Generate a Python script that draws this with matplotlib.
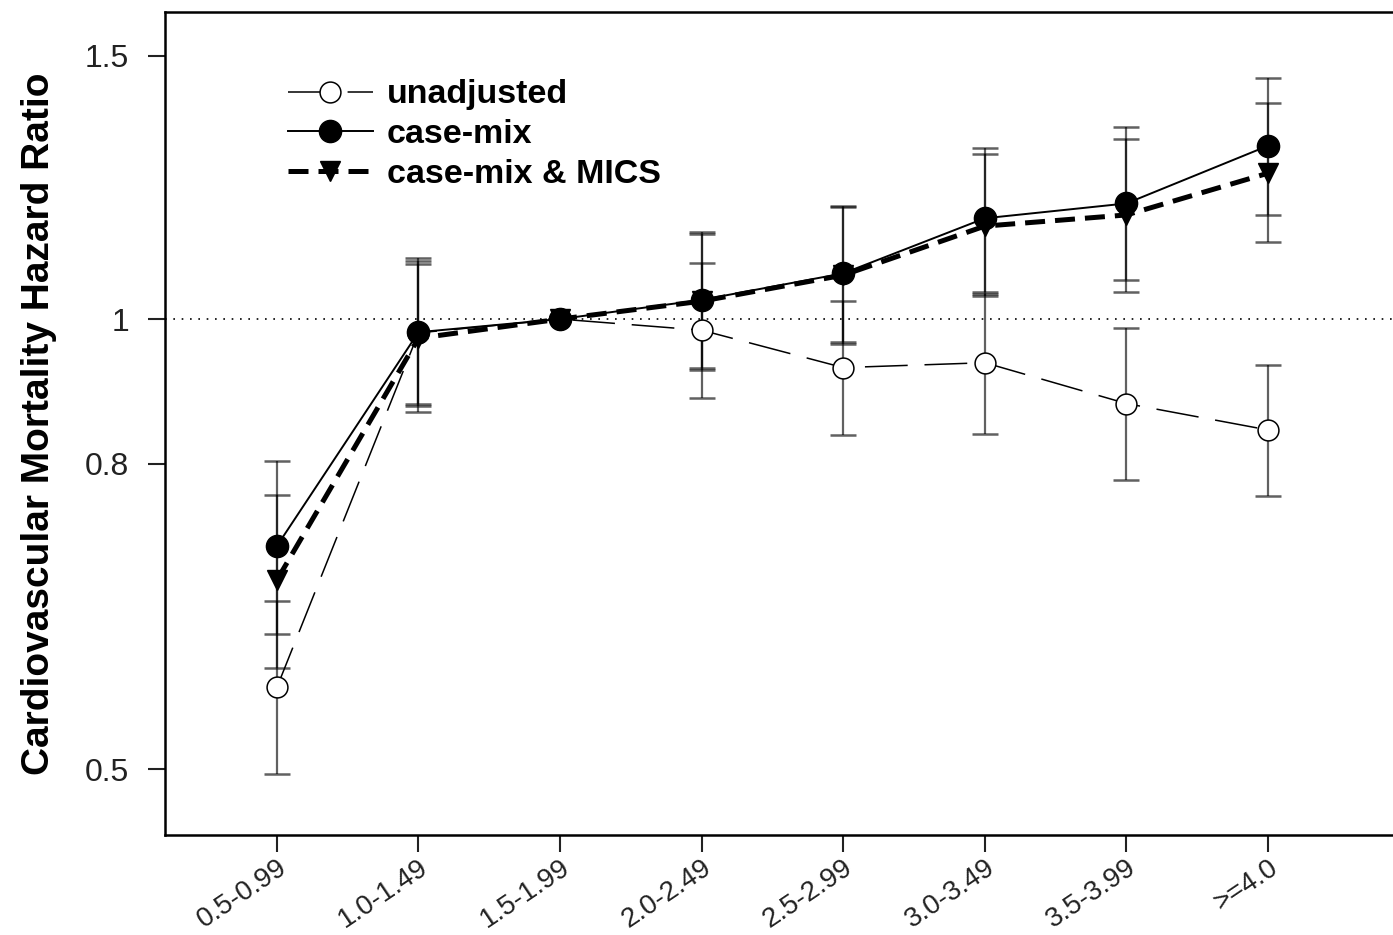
import numpy as np
import matplotlib
matplotlib.use('Agg')
import matplotlib.pyplot as plt

# albumin categories (g/dL)
categories = ['0.5-0.99', '1.0-1.49', '1.5-1.99', '2.0-2.49', '2.5-2.99', '3.0-3.49', '3.5-3.99', '>=4.0']

# hazard ratios and 95% CI (1.5-1.99 is reference)
hr_unadj = [0.567, 0.979, 1.0, 0.983, 0.928, 0.935, 0.878, 0.843]
lo_unadj = [0.496, 0.875, 1.0, 0.886, 0.836, 0.838, 0.781, 0.761]
hi_unadj = [0.648, 1.094, 1.0, 1.091, 1.029, 1.040, 0.986, 0.932]

hr_casemix = [0.705, 0.980, 1.0, 1.030, 1.073, 1.168, 1.195, 1.306]
lo_casemix = [0.616, 0.878, 1.0, 0.927, 0.965, 1.042, 1.062, 1.174]
hi_casemix = [0.803, 1.098, 1.0, 1.143, 1.190, 1.301, 1.344, 1.449]

hr_mics = [0.669, 0.971, 1.0, 1.028, 1.070, 1.154, 1.174, 1.252]
lo_mics = [0.584, 0.867, 1.0, 0.925, 0.963, 1.036, 1.042, 1.126]
hi_mics = [0.763, 1.088, 1.0, 1.140, 1.188, 1.289, 1.320, 1.394]

yticks = [0.5, 0.8, 1, 1.5]
ytick_labels = ['0.5', '0.8', '1', '1.5']

plt.rcParams['font.family'] = ['Liberation Sans', 'DejaVu Sans']

fig = plt.figure(figsize=(13.93, 9.35), dpi=100)
ax = fig.add_axes([0.1185, 0.107, 0.8815, 0.8802])

x = np.arange(len(categories))


def draw_err(hr, lo, hi):
    hr = np.array(hr)
    yerr = [hr - np.array(lo), np.array(hi) - hr]
    mask = np.array(hi) > np.array(lo)
    ax.errorbar(x[mask], hr[mask], yerr=[yerr[0][mask], yerr[1][mask]], fmt='none',
                ecolor='black', alpha=0.62, elinewidth=1.6, capsize=9.5, capthick=1.8, zorder=2)


draw_err(hr_unadj, lo_unadj, hi_unadj)
draw_err(hr_mics, lo_mics, hi_mics)
draw_err(hr_casemix, lo_casemix, hi_casemix)

ax.axhline(1, color='black', linestyle=(0, (1, 4)), linewidth=1.2, zorder=1)

ax.plot(x, hr_unadj, color='black', linewidth=1.1, dashes=(28, 11),
        marker='o', markersize=15, markerfacecolor='white', markeredgecolor='black',
        markeredgewidth=1.1, label='unadjusted', zorder=3)
ax.plot(x, hr_casemix, color='black', linewidth=1.4, marker='o', markersize=16,
        markerfacecolor='black', label='case-mix', zorder=5)
ax.plot(x, hr_mics, color='black', linewidth=3.6, dashes=(4, 2), marker='v', markersize=14,
        markerfacecolor='black', label='case-mix & MICS', zorder=4)

ax.set_yscale('log')
ax.set_ylim(0.4517, 1.605)
ax.set_xlim(-0.79, 7.883)
ax.yaxis.set_major_locator(matplotlib.ticker.FixedLocator(yticks))
ax.yaxis.set_minor_locator(matplotlib.ticker.NullLocator())
ax.set_yticklabels(ytick_labels)
ax.set_xticks(x)
ax.set_xticklabels(categories, rotation=34, ha='right', rotation_mode='anchor')

ax.tick_params(axis='y', labelsize=23, length=12, width=1.5, pad=14, colors='#222222')
ax.tick_params(axis='x', labelsize=20, length=12, width=1.5, pad=2, colors='#222222')

for s in ['left', 'top', 'bottom']:
    ax.spines[s].set_linewidth(1.8)
ax.spines['right'].set_visible(False)

ax.set_ylabel('Cardiovascular Mortality Hazard Ratio', fontsize=28, fontweight='bold', labelpad=20)

ax.legend(loc='upper left', bbox_to_anchor=(0.1, 0.918), frameon=False,
          prop={'weight': 'bold', 'size': 24.5}, handlelength=2.5, handletextpad=0.4,
          labelspacing=0.26, borderpad=0, borderaxespad=0, numpoints=1)

plt.savefig('out.png', dpi=100)
